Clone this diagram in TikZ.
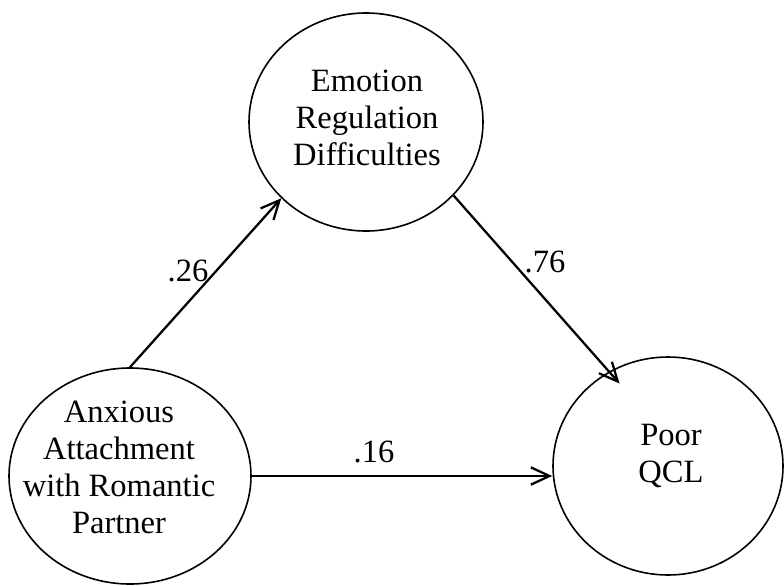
\documentclass[tikz,border=0pt]{standalone}
\usepackage{fontspec}
\setmainfont{Liberation Serif}
\usetikzlibrary{arrows.meta,shapes.geometric}
\begin{document}
\begin{tikzpicture}[x=0.75pt,y=-0.75pt,
  var/.style={draw,ellipse,line width=1.2pt,inner sep=0pt},
  varname/.style={align=center,inner sep=0pt,anchor=base,
    font=\fontsize{24.4}{27.75}\selectfont},
  path/.style={line width=1.7pt,-{Straight Barb[length=14pt,width=13pt,line width=1.7pt]}},
  coef/.style={font=\fontsize{24.4}{27.75}\selectfont,inner sep=0pt,anchor=base}]
\useasboundingbox (0,0) rectangle (784,585);
% latent variables
\node[var,minimum width=175.5pt,minimum height=163.5pt] (erd) at (366,122) {};
\node[var,minimum width=181.5pt,minimum height=162pt] (anx) at (130,476) {};
\node[var,minimum width=172.5pt,minimum height=163.5pt] (qcl) at (668,466) {};
% names, placed by the baseline of their last line
\node[varname] (erd-name) at (367,165) {Emotion\\Regulation\\Difficulties};
\node[varname] (anx-name) at (119,533) {Anxious\\Attachment\\with Romantic\\Partner};
\node[varname] (qcl-name) at (671,482) {Poor\\QCL};
% structural paths
\draw[path] (anx.north) -- (erd.222.5);
\draw[path,shorten >=-12pt] (erd.-40) -- (qcl.122.5);
\draw[path] (anx.east) -- (anx.east -| qcl.west);
% path coefficients
\node[coef] (c1) at (188,281) {.26};
\node[coef] (c2) at (545,272) {.76};
\node[coef] (c3) at (374,462) {.16};
\end{tikzpicture}
\end{document}
